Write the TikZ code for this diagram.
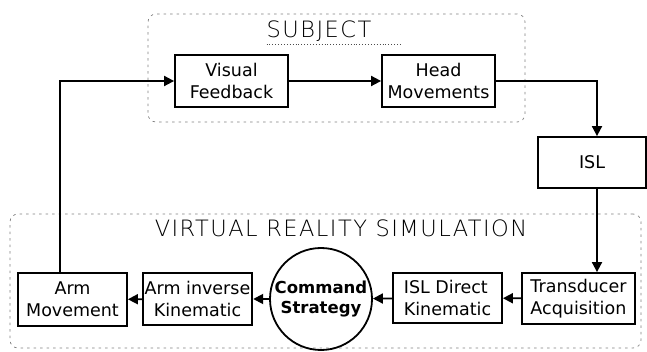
\documentclass[tikz,border=0pt]{standalone}
\usepackage{fontspec}
\setmainfont{DejaVu Sans}
\newfontfamily\thinfont{DejaVu Sans ExtraLight}[LetterSpace=6.5]
\usetikzlibrary{positioning,arrows.meta}

\begin{document}
\begin{tikzpicture}[
    x=1pt, y=-1pt,
    >={Triangle[length=10pt,width=10pt]},
    blk/.style={draw, line width=1.8pt, minimum width=110pt, minimum height=52pt,
                inner sep=2pt, align=center, font=\fontsize{17.5}{22}\selectfont},
    lblk/.style={blk, align=left},
    cmd/.style={circle, draw, line width=1.8pt, minimum size=102pt, inner sep=0pt,
                align=center, font=\fontsize{16.5}{20}\selectfont\bfseries},
    frame/.style={draw=black!50, line width=0.7pt, dash pattern=on 2.5pt off 4pt,
                  rounded corners=8pt, inner sep=0pt},
    ttl/.style={font=\fontsize{22.5}{26}\selectfont\thinfont, inner sep=0pt, anchor=base},
    arr/.style={->, line width=1.8pt},
]
\useasboundingbox (0,0) rectangle (647,352);

% ---------- the two dashed groups ----------
\node[frame, minimum width=377pt, minimum height=108pt] (subj) at (336.5,68) {};
\node[frame, minimum width=631pt, minimum height=134pt] (vrs)  at (325.5,281) {};

\node[ttl] (subjlbl) at (319,38)  {SUBJECT};
\draw[dotted, line width=0.9pt, black!70] ([yshift=-6pt]subjlbl.base west) -- ++(134,0);
\node[ttl] (vrslbl)  at (341,237) {VIRTUAL REALITY SIMULATION};

% ---------- subject loop ----------
\node[blk, minimum width=113pt] (vis)  at (231.5,81) {Visual\\Feedback};
\node[blk, minimum width=113pt] (head) at (438.5,81) {Head\\Movements};
\node[blk, minimum width=108pt, minimum height=51pt] (isl) at (592,162.5) {ISL};

% ---------- simulation chain ----------
\node[lblk, minimum width=113pt, minimum height=51pt] (trans) at (578.5,298.5) {Transducer\\Acquisition};
\node[lblk, minimum width=109pt, minimum height=50pt] (dir)   at (447.5,298)   {ISL Direct\\Kinematic};
\node[cmd]                                            (strat) at (321,299)     {Command\\Strategy};
\node[blk, minimum width=109pt]                       (inv)   at (197.5,299)   {Arm inverse\\Kinematic};
\node[blk, minimum width=109pt, minimum height=53pt]  (arm)   at (72.5,299.5)  {Arm\\Movement};

% ---------- connections ----------
\coordinate (drop) at (597,81);
\coordinate (rise) at (60,81);

\draw[arr] (vis) -- (head);
\draw[arr] (head.east) -- (drop) -- (isl.north -| drop);
\draw[arr] (isl.south -| drop) -- (trans.north -| drop);
\draw[arr] (trans) -- (dir);
\draw[arr] (dir) -- (strat);
\draw[arr] (strat) -- (inv);
\draw[arr] (inv) -- (arm);
\draw[arr] (arm.north -| rise) -- (rise) -- (vis.west);

\end{tikzpicture}
\end{document}
